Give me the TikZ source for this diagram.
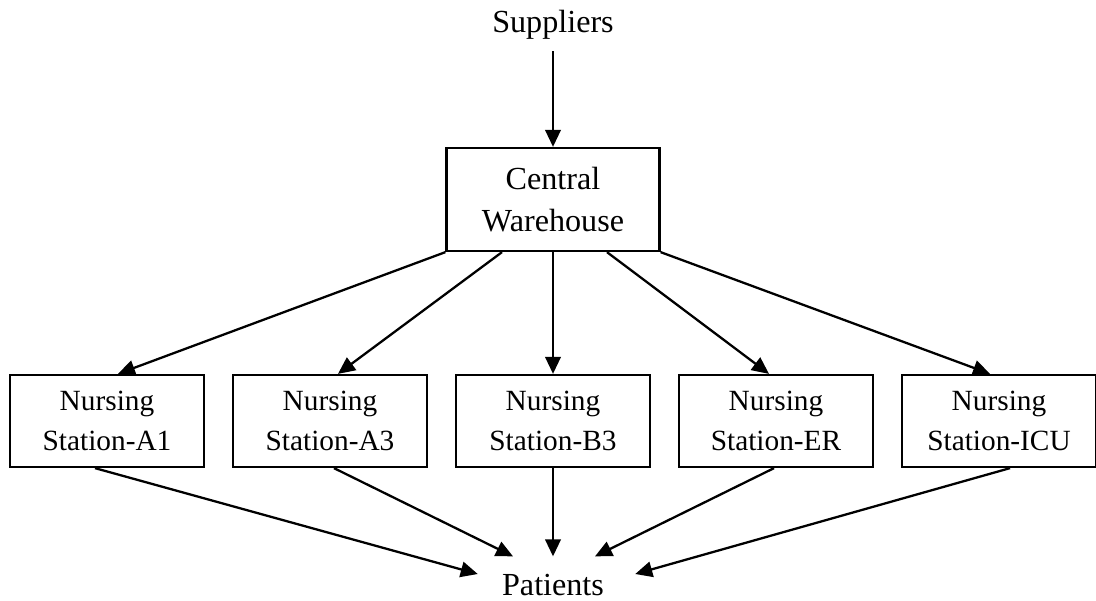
\documentclass[tikz,border=0pt]{standalone}
\usepackage{fontspec}
\setmainfont{Liberation Serif}
\usetikzlibrary{arrows.meta}
\begin{document}
\begin{tikzpicture}[x=0.02cm,y=-0.02cm]
\tikzstyle{every node}+=[font=\fontsize{18.3}{24}\selectfont, align=center]
\tikzstyle{box}=[draw, line width=1.3pt, inner sep=0pt]
\tikzstyle{station}=[box, minimum width=3.88cm, minimum height=1.84cm, font=\fontsize{16.7}{22.4}\selectfont]
\tikzstyle{arr}=[line width=1.3pt, -{Triangle[length=0.34cm,width=0.31cm]}]
\useasboundingbox (0,0) rectangle (1096,601);
\node [inner sep=0.22cm, anchor=base] (sup) at (553,33) {Suppliers};
\node [box, minimum width=4.26cm, minimum height=2.06cm] (cw) at (553,199.5) {Central\\Warehouse};
\node [station] (a1) at (107,421) {Nursing\\Station-A1};
\node [station] (a3) at (330,421) {Nursing\\Station-A3};
\node [station] (b3) at (553,421) {Nursing\\Station-B3};
\node [station] (er) at (776,421) {Nursing\\Station-ER};
\node [station] (icu) at (999,421) {Nursing\\Station-ICU};
\node [inner sep=0pt, anchor=base] (pat) at (553,595) {Patients};
\draw [arr] (sup.south) -- (cw.north);
\draw [arr] (cw.south west) -- ([xshift=0.22cm]a1.north);
\draw [arr] ([xshift=-1.02cm]cw.south) -- ([xshift=0.16cm]a3.north);
\draw [arr] (cw.south) -- (b3.north);
\draw [arr] ([xshift=1.08cm]cw.south) -- ([xshift=-0.14cm]er.north);
\draw [arr] (cw.south east) -- ([xshift=-0.18cm]icu.north);
\draw [arr] ([xshift=-0.24cm]a1.south) -- ([xshift=-0.48cm,yshift=0.21cm]pat.west);
\draw [arr] ([xshift=0.08cm]a3.south) -- ([xshift=-0.8cm,yshift=0.34cm]pat.north);
\draw [arr] (b3.south) -- ([yshift=0.34cm]pat.north);
\draw [arr] ([xshift=-0.04cm]er.south) -- ([xshift=0.84cm,yshift=0.34cm]pat.north);
\draw [arr] ([xshift=0.22cm]icu.south) -- ([xshift=0.62cm,yshift=0.21cm]pat.east);
\end{tikzpicture}
\end{document}
